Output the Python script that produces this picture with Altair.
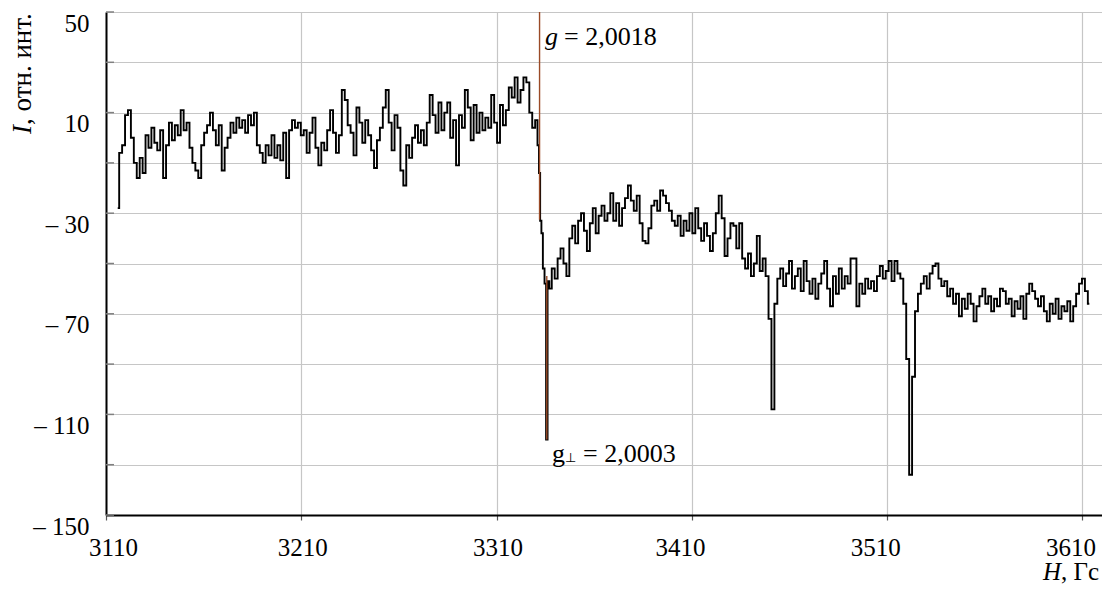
import altair as alt
import pandas as pd

# ---------------- data ----------------
# sampling grid of the first part of the spectrum (Gs) and intensities
SEG_A_START = 3116.0
SEG_A_STEP = 1.5
SEG_A_I = [
    -28, -6, -3, 9, 11, 0, -10, -16, -8, -14,
    1, -4, 4, -2, -5, 3, -16, -3, 6, -1,
    5, 1, 11, 3, 6, -4, -10, -13, -16, -3,
    2, 5, 10, 3, -3, 5, -13, -4, 0, 6,
    2, 8, 4, 7, 2, 9, 5, 10, -3, -6,
    -10, -3, -7, 1, -8, -3, -9, 2, -16, 3,
    7, 4, 6, 1, 3, -6, 2, 8, -4, -11,
    -2, -5, 3, 11, 2, -6, 1, 19, 15, 5,
    2, -7, 12, 6, -2, 7, 1, -5, -12, -1,
    4, 12, 19, 6, -5, 9, 4, -13, -19, -3,
    -8, 0, 5, -2, 3, -3, 6, 17, 9, 2,
    14, 3, 10, 14, 0, 7, -11, 9, 4, 19,
    12, -1, 13, 2, 10, 3, 8, 4, 17, 6,
    -2, 13, 5, 11, 20, 16, 24, 14, 19, 24,
    22, 10, 4, 7,
]

# points around the central line (explicit positions)
G_H = [3331.4, 3332.0, 3332.6, 3333.3, 3334.1, 3335.0, 3335.7, 3336.5]
G_I = [-3, -14, -33, -38, -52, -58, -120, -57]

# sampling grid of the second part
SEG_B_START = 3337.5
SEG_B_STEP = 1.5
SEG_B_I = [
    -60, -52, -56, -48, -44, -50, -55, -40, -35, -42,
    -33, -30, -37, -45, -34, -28, -38, -31, -27, -33,
    -30, -22, -33, -26, -35, -28, -24, -19, -25, -29,
    -23, -34, -41, -42, -36, -27, -25, -29, -21, -23,
    -26, -29, -33, -35, -31, -39, -33, -37, -30, -38,
    -28, -36, -41, -34, -39, -45, -38, -30, -23, -32,
    -47, -40, -34, -35, -44, -34, -48, -52, -46, -55,
    -50, -39, -53, -48, -55, -72, -108, -66, -56, -52,
    -59, -54, -49, -60, -55, -52, -61, -49, -57, -62,
    -56, -64, -58, -54, -49, -60, -67, -55, -62, -52,
    -60, -55, -58, -48, -48, -67, -58, -62, -56, -60,
    -57, -61, -55, -51, -56, -53, -49, -57, -49, -54,
    -56, -66, -88, -134, -95, -69, -62, -58, -55, -60,
    -54, -51, -50, -56, -59, -57, -63, -60, -66, -62,
    -71, -64, -68, -62, -66, -73, -67, -63, -60, -66,
    -63, -69, -64, -67, -60, -61, -66, -64, -71, -65,
    -68, -63, -72, -62, -58, -61, -64, -67, -63, -69,
    -73, -66, -70, -64, -72, -67, -69, -65, -73, -67,
    -62, -58, -56, -61, -66,
]

# marker lines (brown)
MARK_H = [3332.0, 3335.7]
MARK_TOP = [50, -55]
MARK_BOTTOM = [-32.6, -120]

X_TICKS = [3110, 3210, 3310, 3410, 3510, 3610]
Y_GRID = [50, 30, 10, -10, -30, -50, -70, -90, -110, -130, -150]

LABEL_G = "g"
LABEL_G_REST = "= 2,0018"
LABEL_GP = "g"
LABEL_GP_SUB = "\u22a5"
LABEL_GP_REST = "= 2,0003"
G_TEXT_H, G_TEXT_I = 3334.8, 37
GP_TEXT_H, GP_TEXT_I = 3338.4, -128.8

# ---------------- build tables ----------------
h_a = [SEG_A_START + SEG_A_STEP * k for k in range(len(SEG_A_I))]
h_b = [SEG_B_START + SEG_B_STEP * k for k in range(len(SEG_B_I))]
trace_df = pd.DataFrame({"H": h_a + G_H + h_b, "I": SEG_A_I + G_I + SEG_B_I})
marks_df = pd.DataFrame({"H": MARK_H, "I": MARK_TOP, "I2": MARK_BOTTOM})
yticks_df = pd.DataFrame({"I": Y_GRID})
gtext_df = pd.DataFrame({"H": [G_TEXT_H], "I": [G_TEXT_I]})
gptext_df = pd.DataFrame({"H": [GP_TEXT_H], "I": [GP_TEXT_I]})

FONT = "Liberation Serif"
FS = 25

XS = alt.Scale(domain=[3110, 3620], nice=False, zero=False)
YS = alt.Scale(domain=[-150, 50], nice=False, zero=False)

XAXIS = alt.Axis(
    values=X_TICKS, format="d", title=None, grid=True,
    gridColor="#c6c6c6", gridWidth=1.2,
    domainColor="#000", domainWidth=2,
    tickColor="#555", tickSize=5, tickWidth=1.2,
    labelFont=FONT, labelFontSize=FS, labelColor="#000",
    labelPadding=15, labelFlush=False, labelOverlap=False,
    labelOffset={"condition": [
        {"test": "datum.value == 3110", "value": 7},
        {"test": "datum.value >= 3410", "value": -12},
    ], "value": 1},
)
YAXIS = alt.Axis(
    values=Y_GRID, title=None, grid=True,
    gridColor="#c6c6c6", gridWidth=1.2,
    domainColor="#000", domainWidth=2,
    tickSize=0,
    labelFont=FONT, labelFontSize=FS, labelColor="#000",
    labelPadding=17, labelOffset=11, labelBaseline="middle",
    labelOverlap=False,
    labelExpr="((datum.value - 10) % 40 == 0) ? (datum.value < 0 ? '\u2013 ' + format(-datum.value, 'd') : format(datum.value, 'd')) : ''",
)


def xenc():
    return alt.X("H:Q", scale=XS, axis=XAXIS)


def yenc():
    return alt.Y("I:Q", scale=YS, axis=YAXIS)


trace = alt.Chart(trace_df).mark_line(
    interpolate="step", color="#000", strokeWidth=1.9
).encode(x=xenc(), y=yenc(), order="H:Q")

ticks = alt.Chart(yticks_df).mark_rule(color="#808080", strokeWidth=1.5).encode(
    y=yenc(), x=alt.value(0), x2=alt.value(8)
)

brown = alt.Chart(marks_df).mark_rule(color="#9a4a26", strokeWidth=1.4).encode(
    x=xenc(), y=yenc(), y2="I2:Q"
)

g1 = alt.Chart(gtext_df).mark_text(
    font=FONT, fontSize=FS + 1, fontStyle="italic", align="left", baseline="alphabetic", color="#000"
).encode(x=xenc(), y=yenc(), text=alt.value(LABEL_G))
g2 = alt.Chart(gtext_df).mark_text(
    font=FONT, fontSize=FS + 1, align="left", baseline="alphabetic", color="#000", dx=19
).encode(x=xenc(), y=yenc(), text=alt.value(LABEL_G_REST))

p1 = alt.Chart(gptext_df).mark_text(
    font=FONT, fontSize=FS + 1, align="left", baseline="alphabetic", color="#000"
).encode(x=xenc(), y=yenc(), text=alt.value(LABEL_GP))
p2 = alt.Chart(gptext_df).mark_text(
    font="DejaVu Sans", fontSize=13, align="left", baseline="alphabetic", color="#000", dx=13
).encode(x=xenc(), y=yenc(), text=alt.value(LABEL_GP_SUB))
p3 = alt.Chart(gptext_df).mark_text(
    font=FONT, fontSize=FS + 1, align="left", baseline="alphabetic", color="#000", dx=31
).encode(x=xenc(), y=yenc(), text=alt.value(LABEL_GP_REST))

# axis titles (partly italic)
yt1 = alt.Chart(gtext_df).mark_text(
    font=FONT, fontSize=27, fontStyle="italic", angle=270, align="left", baseline="middle", color="#000"
).encode(x=alt.value(-83), y=alt.value(122), text=alt.value("I"))
yt2 = alt.Chart(gtext_df).mark_text(
    font=FONT, fontSize=27, angle=270, align="left", baseline="middle", color="#000"
).encode(x=alt.value(-83), y=alt.value(113), text=alt.value(", отн. инт."))
xt1 = alt.Chart(gtext_df).mark_text(
    font=FONT, fontSize=FS, fontStyle="italic", align="left", baseline="alphabetic", color="#000"
).encode(x=alt.value(937), y=alt.value(568), text=alt.value("H"))
xt2 = alt.Chart(gtext_df).mark_text(
    font=FONT, fontSize=FS, align="left", baseline="alphabetic", color="#000"
).encode(x=alt.value(955), y=alt.value(568), text=alt.value(", Гс"))

chart = alt.layer(
    trace, ticks, brown, g1, g2, p1, p2, p3, yt1, yt2, xt1, xt2
).properties(
    width=996, height=503,
    autosize=alt.AutoSizeParams(type="none"),
    padding={"left": 98, "top": 4, "right": 0, "bottom": 72},
    background="#ffffff",
).configure_view(stroke=None)

chart.save("out.html", embed_options={"renderer": "svg", "actions": False})
